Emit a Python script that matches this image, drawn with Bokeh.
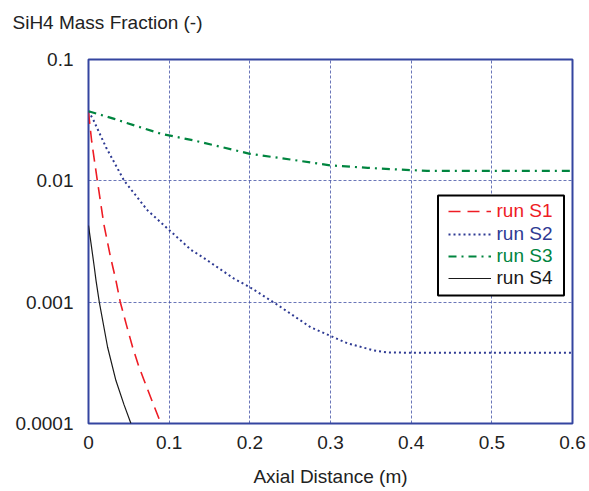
from bokeh.plotting import figure
from bokeh.models import (Legend, LegendItem, BoxAnnotation, FixedTicker,
                          CustomJSTickFormatter)
from bokeh.core.properties import value
from bokeh.embed import file_html
from bokeh.resources import INLINE

FONT = "Liberation Sans"

# ---- data ----
x_s1 = [0, 0.004, 0.011, 0.019, 0.027, 0.034, 0.0394, 0.047, 0.0547, 0.062, 0.069, 0.079, 0.0898]
y_s1 = [0.037, 0.021, 0.01, 0.0044, 0.0024, 0.00151, 0.001, 0.00065, 0.000425, 0.0003, 0.000226, 0.000152, 0.0001]

x_s2 = [0, 0.0064, 0.0217, 0.0443, 0.0733, 0.1006, 0.127, 0.1427, 0.1806, 0.2, 0.2343,
        0.2755, 0.321, 0.354, 0.37, 0.4, 0.5, 0.6]
y_s2 = [0.0375, 0.0314, 0.0189, 0.01, 0.0057, 0.0039, 0.0027, 0.00232, 0.00156, 0.00133, 0.00095,
        0.00062, 0.000458, 0.0004, 0.000385, 0.000383, 0.000383, 0.000383]

x_s3 = [0, 0.032, 0.057, 0.09, 0.131, 0.2, 0.25, 0.3, 0.346, 0.383, 0.42, 0.5, 0.6]
y_s3 = [0.0375, 0.0324, 0.0286, 0.0244, 0.0215, 0.0167, 0.015, 0.0134, 0.0128, 0.0124, 0.0121, 0.0121, 0.0121]

x_s4 = [0, 0.003, 0.0072, 0.0093, 0.0134, 0.0237, 0.034, 0.044, 0.0526]
y_s4 = [0.00428, 0.0031, 0.00194, 0.00151, 0.001, 0.000425, 0.000226, 0.000143, 0.0001]

series_labels = ["run S1", "run S2", "run S3", "run S4"]
x_ticks = [0, 0.1, 0.2, 0.3, 0.4, 0.5, 0.6]
y_ticks = [0.0001, 0.001, 0.01, 0.1]
y_title = "SiH4 Mass Fraction (-)"
x_title = "Axial Distance (m)"

RED = "#ee1c24"
BLUE = "#2e3a93"
GREEN = "#00853f"
BLACK = "#1a1a1a"
TXT = "#222222"
FRAME = "#3445a0"

p = figure(width=589, height=491, x_range=(0, 0.6), y_range=(1e-4, 0.1),
           y_axis_type="log", output_backend="svg", toolbar_location=None,
           min_border_left=88, min_border_right=17, min_border_top=59,
           min_border_bottom=68)

p.background_fill_color = "white"
p.border_fill_color = "white"
p.outline_line_color = FRAME
p.outline_line_width = 2

# y quantity name, shown horizontally above the frame (an empty 2nd line lifts it)
p.title.text = y_title + "\n"
p.title.align = "left"
p.title.vertical_align = "bottom"
p.title.offset = -76
p.title.text_font = FONT
p.title.text_font_size = "19px"
p.title.text_font_style = "normal"
p.title.text_color = TXT
p.title.standoff = 11

p.xaxis.ticker = FixedTicker(ticks=x_ticks)
p.yaxis.ticker = FixedTicker(ticks=y_ticks)
p.xaxis.formatter = CustomJSTickFormatter(code="return String(Number(tick.toPrecision(6)));")
p.yaxis.formatter = CustomJSTickFormatter(code="return String(Number(tick.toPrecision(6)));")

for ax in (p.xaxis, p.yaxis):
    ax.axis_line_color = None
    ax.major_tick_in = 0
    ax.major_tick_out = 0
    ax.minor_tick_line_color = None
    ax.major_label_text_font = FONT
    ax.major_label_text_font_size = "19px"
    ax.major_label_text_color = TXT

p.yaxis.major_label_standoff = 15
p.xaxis.major_label_standoff = 12
p.xaxis.axis_label = x_title
p.xaxis.axis_label_text_font = FONT
p.xaxis.axis_label_text_font_size = "19px"
p.xaxis.axis_label_text_font_style = "normal"
p.xaxis.axis_label_text_color = TXT
p.xaxis.axis_label_standoff = 14

p.grid.grid_line_color = "#3848a0"
p.grid.grid_line_alpha = 0.75
p.grid.grid_line_dash = "3 2"
p.grid.grid_line_width = 1
p.ygrid.minor_grid_line_color = None

r1 = p.line(x_s1, y_s1, line_color=RED, line_width=1.6, line_dash="12 7")
r2 = p.line(x_s2, y_s2, line_color=BLUE, line_width=2, line_dash="2 3")
r3 = p.line(x_s3, y_s3, line_color=GREEN, line_width=2.2, line_dash="8 5 2 5")
r4 = p.line(x_s4, y_s4, line_color=BLACK, line_width=1.2)

box = BoxAnnotation(left=349.5, right=475.5, top=228, bottom=128,
                    left_units="screen", right_units="screen",
                    top_units="screen", bottom_units="screen",
                    fill_color="white", fill_alpha=1.0,
                    line_color="black", line_width=2, line_alpha=1.0)
p.add_layout(box)

row_bottoms = [201, 178, 156, 134]
for r, lab, col, vy in zip([r1, r2, r3, r4], series_labels, [RED, BLUE, GREEN, BLACK], row_bottoms):
    leg = Legend(items=[LegendItem(label=value(lab), renderers=[r])],
                 location=(359.5, vy), padding=0, margin=0, spacing=0,
                 border_line_color=None, background_fill_alpha=0,
                 glyph_width=43, glyph_height=20, label_standoff=6,
                 label_text_font=FONT, label_text_font_size="19px",
                 label_text_color=col)
    p.add_layout(leg, "center")

open("out.html", "w").write(file_html(p, INLINE))
